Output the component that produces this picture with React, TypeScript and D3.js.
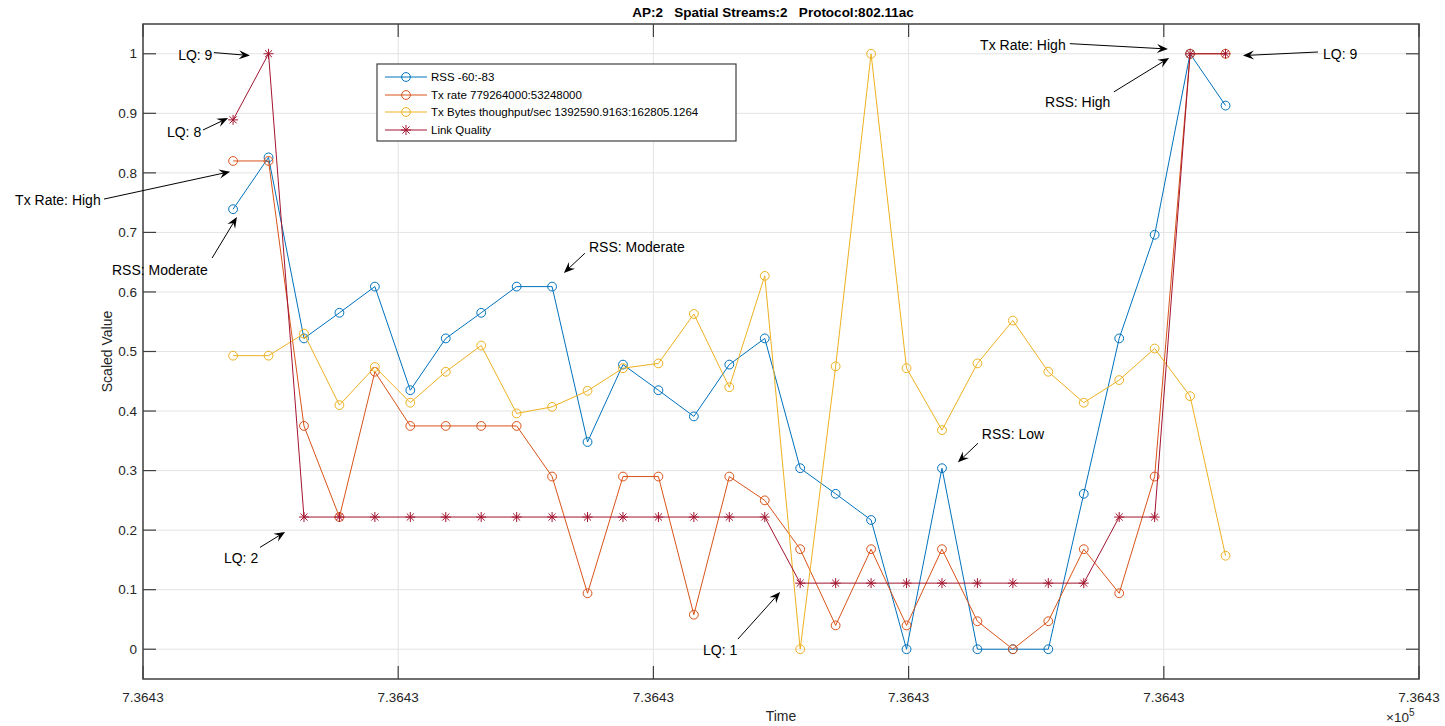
import * as d3 from "d3";

// sample times, seconds after the first x tick
const timeSec = [
  30.5, 42.5, 54.5, 66.5, 78.5, 90.5, 102.5, 114.5, 126.5, 138.5, 150.5, 162.5, 174.5, 186.5, 198.5,
  210.5, 222.5, 234.5, 246.5, 258.5, 270.5, 282.5, 294.5, 306.5, 318.5, 330.5, 342.5, 354.5, 366.5,
];

const rss = [
  0.739, 0.826, 0.522, 0.565, 0.609, 0.435, 0.522, 0.565, 0.609, 0.609, 0.348, 0.478, 0.435, 0.391, 0.478,
  0.522, 0.304, 0.261, 0.217, 0, 0.304, 0, 0, 0, 0.261, 0.522, 0.696, 1, 0.913,
];

const txRate = [
  0.82, 0.82, 0.375, 0.222, 0.466, 0.375, 0.375, 0.375, 0.375, 0.29, 0.094, 0.29, 0.29, 0.058, 0.29,
  0.25, 0.168, 0.04, 0.168, 0.04, 0.168, 0.047, 0, 0.047, 0.168, 0.094, 0.29, 1, 1,
];

const txBytes = [
  0.493, 0.493, 0.53, 0.41, 0.474, 0.414, 0.466, 0.51, 0.396, 0.407, 0.434, 0.472, 0.48, 0.563, 0.44,
  0.627, 0, 0.475, 1, 0.472, 0.368, 0.48, 0.552, 0.466, 0.414, 0.452, 0.505, 0.425, 0.157,
];

const linkQuality = [
  0.889, 1, 0.222, 0.222, 0.222, 0.222, 0.222, 0.222, 0.222, 0.222, 0.222, 0.222, 0.222, 0.222, 0.222,
  0.222, 0.111, 0.111, 0.111, 0.111, 0.111, 0.111, 0.111, 0.111, 0.111, 0.222, 0.222, 1, 1,
];

const seriesNames = [
  "RSS -60:-83",
  "Tx rate 779264000:53248000",
  "Tx Bytes thoughput/sec 1392590.9163:162805.1264",
  "Link Quality",
];
const seriesColors = ["#0072BD", "#D95319", "#EDB120", "#A2142F"];
const seriesMarkers = ["o", "o", "o", "*"];

const xTickValues = [0, 86.4, 172.8, 259.2, 345.6, 432];
const xTickLabels = ["7.3643", "7.3643", "7.3643", "7.3643", "7.3643", "7.3643"];
const yTickValues = [0, 0.1, 0.2, 0.3, 0.4, 0.5, 0.6, 0.7, 0.8, 0.9, 1];
const yTickLabels = ["0", "0.1", "0.2", "0.3", "0.4", "0.5", "0.6", "0.7", "0.8", "0.9", "1"];

// text annotations with arrows, in data units (seconds, scaled value)
const annotations = [
  { label: "LQ: 9", tx: 11.9, ty: 0.997, x1: 24.0, y1: 1.002, x2: 36.2, y2: 0.997 },
  { label: "LQ: 8", tx: 8.1, ty: 0.869, x1: 20.3, y1: 0.872, x2: 28.8, y2: 0.892 },
  { label: "Tx Rate: High", tx: -43.3, ty: 0.755, x1: -13.2, y1: 0.756, x2: 29.5, y2: 0.802 },
  { label: "RSS: Moderate", tx: -10.5, ty: 0.637, x1: 23.4, y1: 0.657, x2: 31.8, y2: 0.726 },
  { label: "RSS: Moderate", tx: 151.0, ty: 0.676, x1: 149.6, y1: 0.665, x2: 142.5, y2: 0.632 },
  { label: "LQ: 2", tx: 27.4, ty: 0.153, x1: 39.6, y1: 0.171, x2: 48.1, y2: 0.197 },
  { label: "LQ: 1", tx: 189.6, ty: -0.002, x1: 201.4, y1: 0.017, x2: 215.7, y2: 0.096 },
  { label: "RSS: Low", tx: 284.0, ty: 0.361, x1: 282.7, y1: 0.346, x2: 275.9, y2: 0.314 },
  { label: "Tx Rate: High", tx: 283.4, ty: 1.015, x1: 313.8, y1: 1.017, x2: 347.0, y2: 1.008 },
  { label: "RSS: High", tx: 305.4, ty: 0.919, x1: 328.7, y1: 0.936, x2: 347.4, y2: 0.993 },
  { label: "LQ: 9", tx: 399.5, ty: 1.0, x1: 397.8, y1: 1.003, x2: 372.4, y2: 0.997 },
];

const width = 1445;
const height = 726;
const margin = { top: 24, right: 26, bottom: 47, left: 143 };
const font = "'Liberation Sans', Arial, Helvetica, sans-serif";
const axisColor = "#404040";
const textColor = "#262626";

const Star = ({ x, y, color }: { x: number; y: number; color: string }) => {
  const r = 5;
  const d = r * 0.7071;
  return (
    <path
      d={`M${x - r},${y}H${x + r}M${x},${y - r}V${y + r}M${x - d},${y - d}L${x + d},${y + d}M${x - d},${y + d}L${x + d},${y - d}`}
      stroke={color}
      strokeWidth={1}
      fill="none"
    />
  );
};

const Arrow = ({ x1, y1, x2, y2 }: { x1: number; y1: number; x2: number; y2: number }) => {
  const a = Math.atan2(y2 - y1, x2 - x1);
  const len = 11;
  const half = 4.5;
  const notch = 7;
  const cos = Math.cos(a);
  const sin = Math.sin(a);
  const bx = x2 - len * cos;
  const by = y2 - len * sin;
  const nx = x2 - notch * cos;
  const ny = y2 - notch * sin;
  const p1 = [bx - half * sin, by + half * cos];
  const p2 = [bx + half * sin, by - half * cos];
  return (
    <g>
      <line x1={x1} y1={y1} x2={nx} y2={ny} stroke="#000" strokeWidth={1} />
      <path d={`M${x2},${y2}L${p1[0]},${p1[1]}L${nx},${ny}L${p2[0]},${p2[1]}Z`} fill="#000" />
    </g>
  );
};

export default function App() {
  const x0 = margin.left;
  const x1 = width - margin.right;
  const y0 = margin.top;
  const y1 = height - margin.bottom;

  const x = d3.scaleLinear().domain([0, 432]).range([x0, x1]);
  const y = d3.scaleLinear().domain([-0.05, 1.05]).range([y1, y0]);

  const series = [rss, txRate, txBytes, linkQuality];
  const line = d3
    .line<number>()
    .x((_, i) => x(timeSec[i]))
    .y((d) => y(d));

  const tickLen = 13;
  const legend = { x: 377, y: 64, w: 359, h: 77 };

  return (
    <svg
      width={width}
      height={height}
      style={{ position: "absolute", left: 0, top: 0, background: "#fff", fontFamily: font }}
    >
      <rect x={0} y={0} width={width} height={height} fill="#fff" />
      <rect x={x0} y={y0} width={x1 - x0} height={y1 - y0} fill="#fff" />

      {/* grid */}
      {yTickValues.map((v) => (
        <line key={"gy" + v} x1={x0} x2={x1} y1={y(v)} y2={y(v)} stroke="#e3e3e3" strokeWidth={1} />
      ))}
      {xTickValues.map((v) => (
        <line key={"gx" + v} x1={x(v)} x2={x(v)} y1={y0} y2={y1} stroke="#e3e3e3" strokeWidth={1} />
      ))}

      {/* series */}
      {series.map((s, k) => (
        <g key={"s" + k}>
          <path d={line(s) ?? ""} fill="none" stroke={seriesColors[k]} strokeWidth={1} />
          {s.map((v, i) =>
            seriesMarkers[k] === "o" ? (
              <circle key={i} cx={x(timeSec[i])} cy={y(v)} r={4.4} fill="none" stroke={seriesColors[k]} strokeWidth={1} />
            ) : (
              <Star key={i} x={x(timeSec[i])} y={y(v)} color={seriesColors[k]} />
            )
          )}
        </g>
      ))}

      {/* axes box and ticks */}
      <rect x={x0} y={y0} width={x1 - x0} height={y1 - y0} fill="none" stroke={axisColor} strokeWidth={1.5} />
      {yTickValues.map((v) => (
        <g key={"ty" + v}>
          <line x1={x0} x2={x0 + tickLen} y1={y(v)} y2={y(v)} stroke={axisColor} strokeWidth={1.2} />
          <line x1={x1} x2={x1 - tickLen} y1={y(v)} y2={y(v)} stroke={axisColor} strokeWidth={1.2} />
        </g>
      ))}
      {xTickValues.map((v) => (
        <g key={"tx" + v}>
          <line x1={x(v)} x2={x(v)} y1={y1} y2={y1 - tickLen} stroke={axisColor} strokeWidth={1.2} />
          <line x1={x(v)} x2={x(v)} y1={y0} y2={y0 + tickLen} stroke={axisColor} strokeWidth={1.2} />
        </g>
      ))}
      {yTickValues.map((v, i) => (
        <text key={"ly" + v} x={x0 - 6} y={y(v)} dy="0.35em" textAnchor="end" fontSize={13.5} fill={textColor}>
          {yTickLabels[i]}
        </text>
      ))}
      {xTickValues.map((v, i) => (
        <text key={"lx" + v} x={x(v)} y={697} dy="0.35em" textAnchor="middle" fontSize={13.5} fill={textColor}>
          {xTickLabels[i]}
        </text>
      ))}
      <text x={1386} y={722} fontSize={13.5} fill={textColor}>
        ×10
        <tspan dy={-6} fontSize={10}>
          5
        </tspan>
      </text>

      {/* axis labels and title */}
      <text x={(x0 + x1) / 2} y={716} dy="0.35em" textAnchor="middle" fontSize={14} fill={textColor}>
        Time
      </text>
      <text
        transform={`translate(107, ${(y0 + y1) / 2}) rotate(-90)`}
        dy="0.35em"
        textAnchor="middle"
        fontSize={14}
        fill={textColor}
      >
        Scaled Value
      </text>
      <text x={773} y={12} dy="0.35em" textAnchor="middle" fontSize={13.5} fontWeight="bold" fill="#000" style={{ whiteSpace: "pre" }}>
        {"AP:2   Spatial Streams:2   Protocol:802.11ac"}
      </text>

      {/* legend */}
      <rect x={legend.x} y={legend.y} width={legend.w} height={legend.h} fill="#fff" stroke="#404040" strokeWidth={1.2} />
      {seriesNames.map((name, k) => {
        const ly = [77, 95, 112, 130][k];
        return (
          <g key={"lg" + k}>
            <line x1={385} x2={427} y1={ly} y2={ly} stroke={seriesColors[k]} strokeWidth={1} />
            {seriesMarkers[k] === "o" ? (
              <circle cx={406} cy={ly} r={4.4} fill="none" stroke={seriesColors[k]} strokeWidth={1} />
            ) : (
              <Star x={406} y={ly} color={seriesColors[k]} />
            )}
            <text x={431} y={ly} dy="0.35em" fontSize={11.5} fill="#000">
              {name}
            </text>
          </g>
        );
      })}

      {/* annotations */}
      {annotations.map((a, i) => (
        <g key={"an" + i}>
          <Arrow x1={x(a.x1)} y1={y(a.y1)} x2={x(a.x2)} y2={y(a.y2)} />
          <text x={x(a.tx)} y={y(a.ty)} dy="0.35em" fontSize={14} fill="#000">
            {a.label}
          </text>
        </g>
      ))}
    </svg>
  );
}
